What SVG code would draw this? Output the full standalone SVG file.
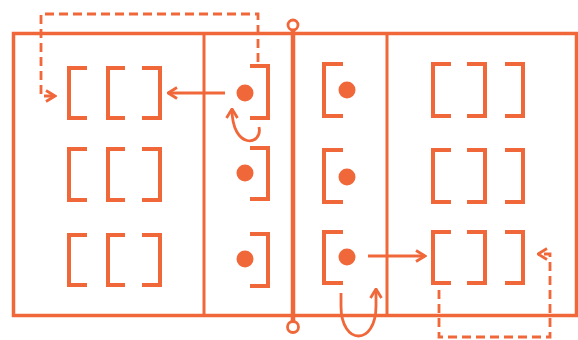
<svg xmlns="http://www.w3.org/2000/svg" width="578" height="340" viewBox="0 0 578 340">
<defs>
<style>
.f{fill:none;stroke:#f0683a;stroke-width:3.5}
.d{fill:none;stroke:#f0683a;stroke-width:3}
.b{fill:none;stroke:#f0683a;stroke-width:4;stroke-linecap:butt}
.dot{fill:#f0683a}
.c{fill:none;stroke:#f0683a;stroke-width:2.8}
.ds{fill:none;stroke:#f0683a;stroke-width:2.8;stroke-dasharray:9 5}
</style>
<marker id="ah" viewBox="0 0 12 14" refX="10.5" refY="7" markerWidth="12" markerHeight="14" markerUnits="userSpaceOnUse" orient="auto">
<path d="M1.5,1.5 L10.5,7 L1.5,12.5" fill="none" stroke="#f0683a" stroke-width="2.8"/>
</marker>
</defs>
<rect width="578" height="340" fill="#ffffff"/>
<g id="frame">
<rect class="f" x="13.5" y="33.5" width="563" height="282"/>
<line class="d" x1="204" y1="33.5" x2="204" y2="315.5"/>
<line class="d" x1="387" y1="33.5" x2="387" y2="315.5"/>
<line x1="293" y1="30" x2="293" y2="322" stroke="#f0683a" stroke-width="4.5"/>
<circle cx="293" cy="25" r="5" fill="#ffffff" stroke="#f0683a" stroke-width="2.8"/>
<circle cx="293" cy="327" r="5.5" fill="#ffffff" stroke="#f0683a" stroke-width="2.8"/>
</g>
<g id="col1">
<path class="b" d="M87,68 H69 V118 H87 M125,68 H108 V118 H125 M142,68 H160 V118 H142"/>
<path class="b" d="M87,149 H69 V200 H87 M125,149 H108 V200 H125 M142,149 H160 V200 H142"/>
<path class="b" d="M87,235 H69 V285 H87 M125,235 H108 V285 H125 M142,235 H160 V285 H142"/>
</g>
<g id="col2">
<path class="b" d="M250,66 H268 V118 H250 M250,148 H268 V199 H250 M250,234 H268 V286 H250"/>
<circle class="dot" cx="245" cy="93" r="8.5"/>
<circle class="dot" cx="245" cy="173" r="8.5"/>
<circle class="dot" cx="245" cy="259" r="8.5"/>
</g>
<g id="col3">
<path class="b" d="M343,64 H324 V116 H343 M343,150 H324 V202 H343 M343,232 H324 V283 H343"/>
<circle class="dot" cx="347" cy="90" r="8.5"/>
<circle class="dot" cx="347" cy="177" r="8.5"/>
<circle class="dot" cx="347" cy="257" r="8.5"/>
</g>
<g id="col4">
<path class="b" d="M451,64 H433 V116 H451 M467,64 H485 V116 H467 M505,64 H523 V116 H505"/>
<path class="b" d="M451,150 H433 V202 H451 M467,150 H485 V202 H467 M505,150 H523 V202 H505"/>
<path class="b" d="M451,232 H433 V283 H451 M467,232 H485 V283 H467 M505,232 H523 V283 H505"/>
</g>
<g id="connectors">
<line class="c" x1="225" y1="93" x2="168" y2="93" marker-end="url(#ah)"/>
<path class="ds" d="M258,62 V14 H41 V96 H55" marker-end="url(#ah)"/>
<path class="c" d="M259,127 C263,146 232,150 232,109" marker-end="url(#ah)"/>
<line class="c" x1="368" y1="256" x2="425" y2="256" marker-end="url(#ah)"/>
<path class="c" d="M341,293 V306 C341,346 376,346 376,306 V289" marker-end="url(#ah)"/>
<path class="ds" d="M439,290 V337 H550 V254 H538" marker-end="url(#ah)"/>
</g>
</svg>
